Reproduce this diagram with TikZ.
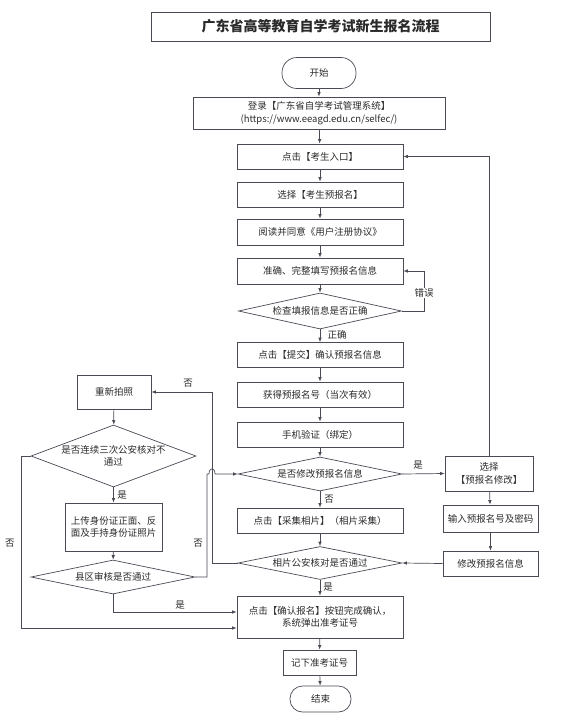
\documentclass[tikz,border=0pt]{standalone}
\usepackage{fontspec}
\setmainfont{Noto Sans CJK SC}
\usetikzlibrary{shapes.geometric,arrows.meta,calc}
\definecolor{linec}{HTML}{4A4A55}
\definecolor{txt}{HTML}{2A2A2A}
\begin{document}
\begin{tikzpicture}[x=1pt,y=-1pt,
  base/.style={draw=linec, line width=0.7pt, text=txt, font=\fontsize{9.5}{12.5}\selectfont, inner sep=0pt, align=center},
  proc/.style={base, rectangle},
  term/.style={base, rectangle, rounded corners=13pt},
  dec/.style={base, diamond},
  conn/.style={draw=linec, line width=0.7pt, -{Latex[length=4.5pt,width=3.5pt]}},
  plain/.style={draw=linec, line width=0.7pt},
  lab/.style={text=txt, font=\fontsize{9.5}{11}\selectfont, inner sep=1pt}]
\useasboundingbox (0,0) rectangle (586,724);
% title
\node[proc, minimum width=339, minimum height=29, font=\fontsize{14}{16}\selectfont\bfseries] (title) at (320.5,26.5) {广东省高等教育自学考试新生报名流程};
% main column
\node[term, minimum width=74, minimum height=31, rounded corners=15pt] (start) at (319,73) {开始};
\node[proc, minimum width=252, minimum height=32] (login) at (319,113) {登录【广东省自学考试管理系统】\\(https://www.eeagd.edu.cn/selfec/)};
\node[proc, minimum width=166, minimum height=25] (n1) at (320,156.5) {点击【考生入口】};
\node[proc, minimum width=166, minimum height=25] (n2) at (320,194.5) {选择【考生预报名】};
\node[proc, minimum width=166, minimum height=26] (n3) at (320,232) {阅读并同意《用户注册协议》};
\node[proc, minimum width=166, minimum height=26] (n4) at (320,271) {准确、完整填写预报名信息};
\node[dec, aspect=4.5, minimum width=163, minimum height=36] (d1) at (320,311) {检查填报信息是否正确};
\node[proc, minimum width=166, minimum height=25] (n5) at (320,355) {点击【提交】确认预报名信息};
\node[proc, minimum width=166, minimum height=25] (n6) at (320,394.5) {获得预报名号（当次有效）};
\node[proc, minimum width=166, minimum height=25] (n7) at (320,434.5) {手机验证（绑定）};
\node[dec, aspect=4.8, minimum width=164, minimum height=34] (d2) at (320,474) {是否修改预报名信息};
\node[proc, minimum width=166, minimum height=25] (n8) at (320,520.5) {点击【采集相片】（相片采集）};
\node[dec, aspect=5, minimum width=164, minimum height=33] (d3) at (320,563) {相片公安核对是否通过};
\node[proc, minimum width=166, minimum height=42] (n9) at (320,617) {点击【确认报名】按钮完成确认，\\系统弹出准考证号};
\node[proc, minimum width=73, minimum height=25] (n10) at (319.5,662.5) {记下准考证号};
\node[term, minimum width=61, minimum height=26, rounded corners=12.5pt] (end) at (320.5,699) {结束};
% right column
\node[proc, minimum width=88, minimum height=35] (r1) at (489,473.5) {选择\\【预报名修改】};
\node[proc, minimum width=95, minimum height=27] (r2) at (490.5,518.5) {输入预报名号及密码};
\node[proc, minimum width=95, minimum height=25] (r3) at (490.5,563.5) {修改预报名信息};
% left column
\node[proc, minimum width=74, minimum height=34] (l1) at (114,392) {重新拍照};
\node[dec, aspect=2.66, minimum width=165, minimum height=62] (ld1) at (113.5,456) {是否连续三次公安核对不\\通过};
\node[proc, minimum width=97, minimum height=48] (l2) at (113.5,527) {上传身份证正面、反\\面及手持身份证照片};
\node[dec, aspect=4.8, minimum width=164, minimum height=34] (ld2) at (113,577) {县区审核是否通过};
% helper coordinates
\coordinate (errx) at (424,311);
\coordinate (n9a) at ($(n9.west)+(0,-5)$);
\coordinate (n9b) at ($(n9.west)+(0,11)$);
\coordinate (nox) at (212,563);
\coordinate (hx) at (207,577);
\coordinate (lx) at (21,456);
% main arrows
\draw[conn] (start) -- (login);
\draw[conn] (login) -- (n1);
\draw[conn] (n1) -- (n2);
\draw[conn] (n2) -- (n3);
\draw[conn] (n3) -- (n4);
\draw[conn] (n4) -- (d1);
\draw[conn] (d1) -- (n5);
\draw[conn] (n5) -- (n6);
\draw[conn] (n6) -- (n7);
\draw[conn] (n7) -- (d2);
\draw[conn] (d2) -- (n8);
\draw[conn] (n8) -- (d3);
\draw[conn] (d3) -- (n9);
\draw[conn] (n9) -- (n10);
\draw[conn] (n10) -- (end);
% error loop
\draw[conn] (d1.east) -- (errx) |- (n4.east);
\node[lab, fill=white] (lerr) at (424,293) {错误};
\node[lab] (lok) at (337,335) {正确};
% modify branch
\draw[conn] (d2.east) -- (r1.west);
\node[lab] (lyes1) at (418,465) {是};
\node[lab] (lno1) at (329,499) {否};
\draw[conn] (r1) -- (r2);
\draw[conn] (r2) -- (r3);
\draw[conn] (r3.west) -- (d3.east);
\draw[conn] (r1.north) |- (n1.east);
\node[lab] (lyes2) at (328,587) {是};
% photo failure branch
\draw[conn] (d3.west) -- (nox) |- (l1.east);
\node[lab] (lno2) at (188,383) {否};
\draw[conn] (l1) -- (ld1);
\draw[conn] (ld1) -- (l2);
\node[lab] (lyes3) at (122,495) {是};
\draw[conn] (l2) -- (ld2);
% county review fail -> modify decision (with hop)
\draw[conn] (ld2.east) -- (hx) -- (207,474) -- (209,474) .. controls (209,467) and (215,467) .. (215,474) -- (d2.west);
\node[lab] (lno3) at (198,543) {否};
% county review pass
\draw[conn] (ld2.south) |- (n9a);
\node[lab] (lyes4) at (180,605) {是};
% three failures
\draw[conn] (ld1.west) -- (lx) |- (n9b);
\node[lab] (lno4) at (10,543) {否};
\end{tikzpicture}
\end{document}
